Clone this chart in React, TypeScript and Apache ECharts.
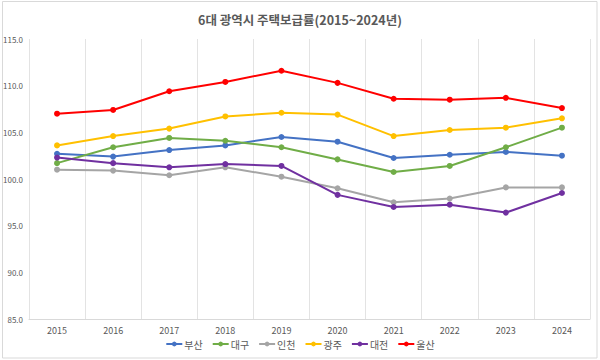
import React, { useEffect, useRef } from "react";
import * as echarts from "echarts";

const years = ["2015", "2016", "2017", "2018", "2019", "2020", "2021", "2022", "2023", "2024"];
const busan = [102.7, 102.4, 103.1, 103.6, 104.5, 104.0, 102.25, 102.6, 102.9, 102.5];
const daegu = [101.7, 103.4, 104.4, 104.1, 103.4, 102.1, 100.75, 101.4, 103.4, 105.5];
const incheon = [101.0, 100.9, 100.4, 101.25, 100.25, 99.0, 97.5, 97.9, 99.1, 99.1];
const gwangju = [103.6, 104.6, 105.4, 106.7, 107.1, 106.9, 104.6, 105.25, 105.5, 106.5];
const daejeon = [102.3, 101.7, 101.25, 101.6, 101.4, 98.3, 97.0, 97.25, 96.4, 98.5];
const ulsan = [107.0, 107.4, 109.4, 110.4, 111.6, 110.3, 108.6, 108.5, 108.7, 107.6];

const seriesNames = ["부산", "대구", "인천", "광주", "대전", "울산"];
const seriesData = [busan, daegu, incheon, gwangju, daejeon, ulsan];
const colors = ["#4472C4", "#70AD47", "#A5A5A5", "#FFC000", "#7030A0", "#FF0000"];

const FONT = "'Noto Sans CJK KR', 'Noto Sans', sans-serif";

export default function App() {
  const ref = useRef<HTMLDivElement>(null);
  useEffect(() => {
    document.body.style.margin = "0";
    if (!ref.current) return;
    const chart = echarts.init(ref.current, undefined, { renderer: "svg" });
    chart.setOption({
      animation: false,
      backgroundColor: "#ffffff",
      textStyle: { fontFamily: FONT },
      title: {
        text: "6대 광역시 주택보급률(2015~2024년)",
        left: "center",
        top: 8,
        textStyle: { fontFamily: FONT, fontSize: 12.5, fontWeight: "bold", color: "#595959" },
      },
      graphic: [
        {
          type: "rect",
          shape: { x: 2.5, y: 1.5, width: 594.5, height: 356.5 },
          style: { fill: "none", stroke: "#D9D9D9", lineWidth: 1 },
          silent: true,
        },
      ],
      legend: {
        bottom: 6,
        left: "center",
        itemWidth: 16,
        itemHeight: 6,
        itemGap: 9,
        textStyle: { fontFamily: FONT, fontSize: 10, color: "#595959", padding: [0, 0, 0, -3] },
        data: seriesNames,
      },
      grid: { left: 28, right: 10, top: 39, bottom: 41 },
      xAxis: {
        type: "category",
        data: years,
        boundaryGap: true,
        axisLine: { show: true, lineStyle: { color: "#D9D9D9" } },
        axisTick: { show: false },
        axisLabel: { color: "#595959", fontSize: 9, margin: 7, fontFamily: FONT },
        splitLine: { show: true, lineStyle: { color: "#E3E3E3", width: 1 } },
      },
      yAxis: {
        type: "value",
        min: 85,
        max: 115,
        interval: 5,
        axisLine: { show: false },
        axisTick: { show: false },
        splitLine: { show: false },
        axisLabel: {
          color: "#595959",
          fontSize: 8,
          margin: 6,
          fontFamily: FONT,
          formatter: (v: number) => v.toFixed(1),
        },
      },
      series: seriesNames.map((name, i) => ({
        name,
        type: "line",
        data: seriesData[i],
        symbol: "circle",
        symbolSize: 6,
        lineStyle: { width: 2, color: colors[i] },
        itemStyle: { color: colors[i] },
      })),
    });
    return () => chart.dispose();
  }, []);
  return <div ref={ref} style={{ width: 600, height: 360 }} />;
}
